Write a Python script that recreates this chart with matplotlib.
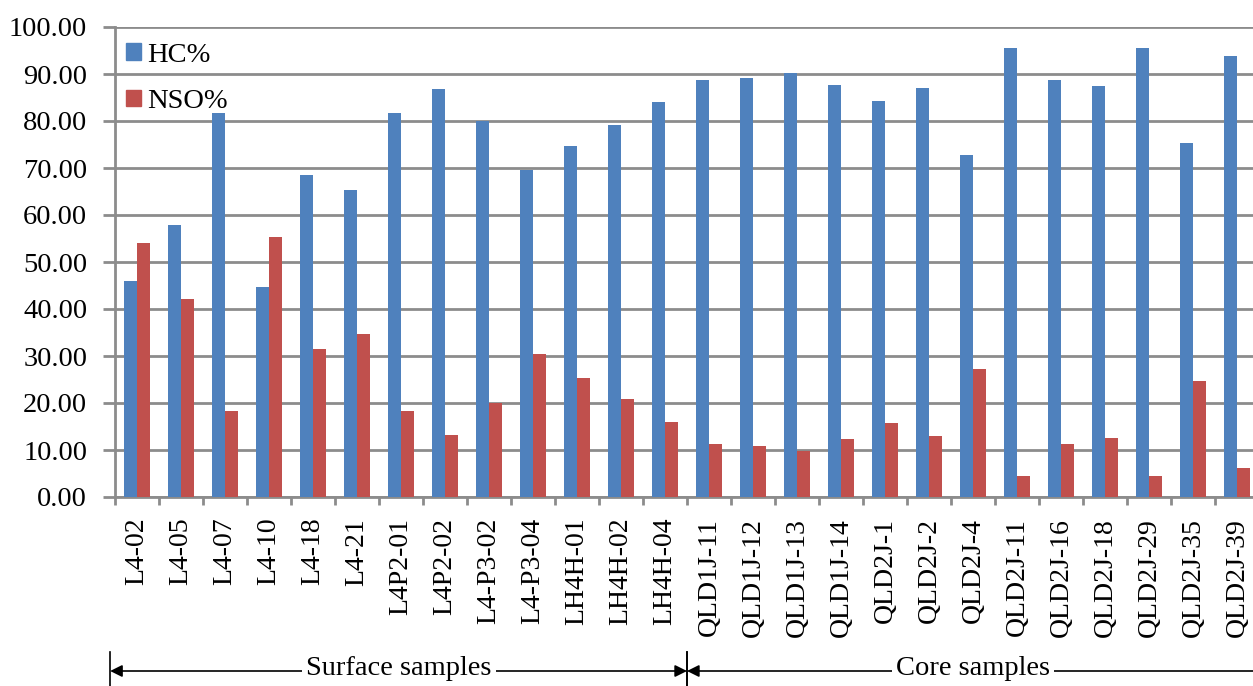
import matplotlib
matplotlib.use("Agg")
import matplotlib.pyplot as plt
import numpy as np
from matplotlib.patches import Patch
from matplotlib.transforms import blended_transform_factory

samples = ["L4-02", "L4-05", "L4-07", "L4-10", "L4-18", "L4-21", "L4P2-01", "L4P2-02",
           "L4-P3-02", "L4-P3-04", "LH4H-01", "LH4H-02", "LH4H-04",
           "QLD1J-11", "QLD1J-12", "QLD1J-13", "QLD1J-14", "QLD2J-1", "QLD2J-2", "QLD2J-4",
           "QLD2J-11", "QLD2J-16", "QLD2J-18", "QLD2J-29", "QLD2J-35", "QLD2J-39"]
hc = [46.0, 57.8, 81.7, 44.6, 68.6, 65.3, 81.6, 86.9, 80.1, 69.5, 74.6, 79.2, 84.0,
      88.8, 89.1, 90.3, 87.7, 84.2, 87.0, 72.8, 95.5, 88.7, 87.4, 95.6, 75.4, 93.8]
nso = [54.0, 42.2, 18.3, 55.4, 31.4, 34.7, 18.4, 13.1, 19.9, 30.5, 25.4, 20.8, 16.0,
       11.2, 10.9, 9.7, 12.3, 15.8, 13.0, 27.2, 4.5, 11.3, 12.6, 4.4, 24.6, 6.2]
yticks = [0, 10, 20, 30, 40, 50, 60, 70, 80, 90, 100]
groups = ["Surface samples", "Core samples"]
n_surface = 13

plt.rcParams['font.family'] = ['Liberation Serif', 'DejaVu Serif']
BLUE = '#4F81BD'
RED = '#C0504D'
GRID = '#8c8c8c'

fig = plt.figure(figsize=(12.53, 6.86), dpi=100)
ax = fig.add_axes([115/1253, 1-497/686, (1259-115)/1253, (497-27)/686])

x = np.arange(len(samples))
w = 0.3
ax.bar(x - w/2, hc, width=w, color=BLUE, zorder=3)
ax.bar(x + w/2, nso, width=w, color=RED, zorder=3)

ax.set_xlim(-0.5, len(samples) - 0.5)
ax.set_ylim(0, 100)
ax.set_yticks(yticks)
ax.set_yticklabels([f"{v:.2f}" for v in yticks], fontsize=20.5)
ax.set_xticks(x)
ax.set_xticklabels(samples, rotation=90, fontsize=20)
ax.set_xticks(np.arange(len(samples) + 1) - 0.5, minor=True)
ax.tick_params(axis='x', which='major', length=0, pad=15)
ax.tick_params(axis='x', which='minor', length=6, width=2, color=GRID)
ax.tick_params(axis='y', length=9, width=2, color=GRID, pad=11)
ax.yaxis.grid(True, color=GRID, linewidth=2, zorder=0)
ax.set_axisbelow(True)
for s in ['top', 'right']:
    ax.spines[s].set_visible(False)
for s in ['left', 'bottom']:
    ax.spines[s].set_color(GRID)
    ax.spines[s].set_linewidth(2)

handles = [Patch(color=BLUE, label='HC%'), Patch(color=RED, label='NSO%')]
ax.legend(handles=handles, loc='upper left', frameon=False, fontsize=20.5,
          handlelength=0.5, handleheight=0.5, handletextpad=0.22,
          labelspacing=0.75, bbox_to_anchor=(0.0, 0.991), borderaxespad=0.0,
          borderpad=0.4)

# group annotations below the labels
tr = blended_transform_factory(ax.transData, fig.transFigure)
yarr = 1 - 671/686
bounds = [(-0.61, n_surface - 0.5), (n_surface - 0.5, len(samples) + 0.5)]
centers = [(bounds[0][0] + bounds[0][1]) / 2, 19.0]
for (x0, x1), name, xc in zip(bounds, groups, centers):
    ax.annotate('', xy=(x0, yarr), xytext=(x1, yarr), xycoords=tr, textcoords=tr,
                arrowprops=dict(arrowstyle='<|-|>', color='black', lw=1.2,
                                mutation_scale=18, shrinkA=0, shrinkB=0),
                annotation_clip=False)
    ax.text(xc, yarr + 0.004, name, transform=tr, ha='center', va='center', fontsize=20.5,
            bbox=dict(facecolor='white', edgecolor='none', pad=3), clip_on=False)
    for xv in (x0, x1):
        ax.plot([xv, xv], [0, 1 - 652/686], transform=tr, color='black', lw=1.2, clip_on=False)

fig.savefig('out.png', dpi=100)
